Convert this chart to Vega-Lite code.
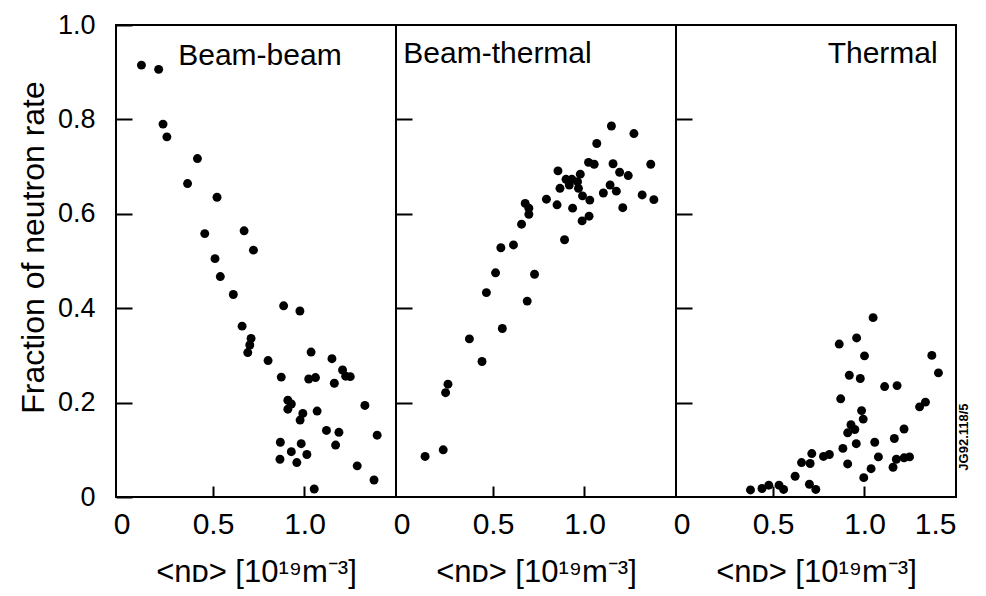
{
  "$schema": "https://vega.github.io/schema/vega-lite/v6.json",
  "background": "white",
  "padding": {"left": 16, "top": 10, "right": 8, "bottom": 4},
  "spacing": 0,
  "bounds": "flush",
  "config": {
    "view": {"stroke": "black", "strokeWidth": 2},
    "font": "Liberation Sans",
    "axis": {
      "domain": false, "grid": false,
      "tickColor": "black", "tickWidth": 2,
      "labelColor": "black", "titleColor": "black",
      "labelFont": "Liberation Sans", "titleFont": "Liberation Sans",
      "titleFontWeight": "normal"
    },
    "axisX": {
      "tickSize": -11, "labelPadding": 23, "labelFontSize": 30,
      "titleFontSize": 31, "titlePadding": 18
    },
    "axisY": {
      "tickSize": -16, "labelPadding": 37, "labelFontSize": 27,
      "titleFontSize": 32, "titlePadding": 7
    },
    "text": {"font": "Liberation Sans", "color": "black"}
  },
  "hconcat": [
    {
      "width": 280, "height": 472,
      "layer": [
        {
          "data": {"values": [
            {"x":0.109,"y":0.915},{"x":0.203,"y":0.906},{"x":0.227,"y":0.790},{"x":0.248,"y":0.763},{"x":0.415,"y":0.717},{"x":0.361,"y":0.664},{"x":0.522,"y":0.635},{"x":0.455,"y":0.558},{"x":0.670,"y":0.564},{"x":0.721,"y":0.523},{"x":0.511,"y":0.505},{"x":0.540,"y":0.467},{"x":0.611,"y":0.429},{"x":0.886,"y":0.405},{"x":0.975,"y":0.394},{"x":0.659,"y":0.362},{"x":0.708,"y":0.336},{"x":0.701,"y":0.322},{"x":0.690,"y":0.306},{"x":0.801,"y":0.289},{"x":1.036,"y":0.307},{"x":1.150,"y":0.293},{"x":1.208,"y":0.269},{"x":1.225,"y":0.256},{"x":1.250,"y":0.255},{"x":0.873,"y":0.254},{"x":1.023,"y":0.250},{"x":1.060,"y":0.253},{"x":1.163,"y":0.241},{"x":0.909,"y":0.205},{"x":0.928,"y":0.197},{"x":0.909,"y":0.186},{"x":0.991,"y":0.177},{"x":0.976,"y":0.163},{"x":1.069,"y":0.182},{"x":1.330,"y":0.194},{"x":1.120,"y":0.141},{"x":1.188,"y":0.137},{"x":1.397,"y":0.131},{"x":1.170,"y":0.110},{"x":0.868,"y":0.116},{"x":0.982,"y":0.113},{"x":0.928,"y":0.096},{"x":1.013,"y":0.090},{"x":0.866,"y":0.080},{"x":0.958,"y":0.073},{"x":1.288,"y":0.066},{"x":1.380,"y":0.036},{"x":1.053,"y":0.017}
          ]},
          "mark": {"type": "point", "filled": true, "size": 80, "color": "black", "opacity": 1},
          "encoding": {
            "x": {"field": "x", "type": "quantitative", "scale": {"domain": [-0.03, 1.5], "nice": false, "zero": false},
                  "axis": {"title": "<nᴅ> [10¹⁹m⁻³]", "values": [0, 0.5, 1.0],
                           "labelExpr": "datum.value == 0 ? '0' : format(datum.value, '.1f')",
                           "tickOpacity": {"condition": {"test": "datum.value == 0", "value": 0}, "value": 1}}},
            "y": {"field": "y", "type": "quantitative", "scale": {"domain": [0, 1], "nice": false},
                  "axis": {"title": "Fraction of neutron rate", "titleY": 222, "values": [0, 0.2, 0.4, 0.6, 0.8, 1.0],
                           "labelExpr": "datum.value == 0 ? '0' : format(datum.value, '.1f')"}}
          }
        },
        {
          "data": {"values": [{"panel": "Beam-beam"}]},
          "mark": {"type": "text", "align": "left", "baseline": "alphabetic", "fontSize": 30},
          "encoding": {
            "x": {"datum": 0.31}, "y": {"datum": 0.915},
            "text": {"field": "panel"}
          }
        }
      ]
    },
    {
      "width": 280, "height": 472,
      "layer": [
        {
          "data": {"values": [
            {"x":1.147,"y":0.786},{"x":1.270,"y":0.770},{"x":1.067,"y":0.749},{"x":1.022,"y":0.709},{"x":1.053,"y":0.705},{"x":1.156,"y":0.706},{"x":1.362,"y":0.705},{"x":0.855,"y":0.691},{"x":1.192,"y":0.688},{"x":1.239,"y":0.681},{"x":0.977,"y":0.684},{"x":0.899,"y":0.673},{"x":0.931,"y":0.673},{"x":0.962,"y":0.668},{"x":0.917,"y":0.661},{"x":0.866,"y":0.654},{"x":0.967,"y":0.654},{"x":1.140,"y":0.661},{"x":1.174,"y":0.648},{"x":1.103,"y":0.644},{"x":0.989,"y":0.638},{"x":1.029,"y":0.629},{"x":1.315,"y":0.640},{"x":1.379,"y":0.630},{"x":0.792,"y":0.631},{"x":0.850,"y":0.619},{"x":0.935,"y":0.612},{"x":1.209,"y":0.613},{"x":0.676,"y":0.622},{"x":0.696,"y":0.612},{"x":0.696,"y":0.599},{"x":1.025,"y":0.595},{"x":0.987,"y":0.585},{"x":0.656,"y":0.578},{"x":0.891,"y":0.545},{"x":0.543,"y":0.528},{"x":0.612,"y":0.534},{"x":0.514,"y":0.475},{"x":0.727,"y":0.472},{"x":0.464,"y":0.433},{"x":0.687,"y":0.415},{"x":0.551,"y":0.357},{"x":0.371,"y":0.335},{"x":0.440,"y":0.287},{"x":0.254,"y":0.239},{"x":0.241,"y":0.221},{"x":0.228,"y":0.100},{"x":0.129,"y":0.086}
          ]},
          "mark": {"type": "point", "filled": true, "size": 80, "color": "black", "opacity": 1},
          "encoding": {
            "x": {"field": "x", "type": "quantitative", "scale": {"domain": [-0.03, 1.5], "nice": false, "zero": false},
                  "axis": {"title": "<nᴅ> [10¹⁹m⁻³]", "values": [0, 0.5, 1.0],
                           "labelExpr": "datum.value == 0 ? '0' : format(datum.value, '.1f')",
                           "tickOpacity": {"condition": {"test": "datum.value == 0", "value": 0}, "value": 1}}},
            "y": {"field": "y", "type": "quantitative", "scale": {"domain": [0, 1], "nice": false},
                  "axis": {"title": null, "labels": false, "values": [0.2, 0.4, 0.6, 0.8]}}
          }
        },
        {
          "data": {"values": [{"panel": "Beam-thermal"}]},
          "mark": {"type": "text", "align": "left", "baseline": "alphabetic", "fontSize": 30},
          "encoding": {
            "x": {"datum": 0.01}, "y": {"datum": 0.92},
            "text": {"field": "panel"}
          }
        }
      ]
    },
    {
      "width": 280, "height": 472,
      "layer": [
        {
          "data": {"values": [
            {"x":1.047,"y":0.380},{"x":0.957,"y":0.337},{"x":0.862,"y":0.324},{"x":1.000,"y":0.299},{"x":1.368,"y":0.300},{"x":1.404,"y":0.263},{"x":0.917,"y":0.258},{"x":0.977,"y":0.251},{"x":1.110,"y":0.234},{"x":1.178,"y":0.236},{"x":0.870,"y":0.208},{"x":1.333,"y":0.201},{"x":1.301,"y":0.191},{"x":0.984,"y":0.183},{"x":0.993,"y":0.165},{"x":0.926,"y":0.153},{"x":0.947,"y":0.143},{"x":0.908,"y":0.136},{"x":1.216,"y":0.144},{"x":1.163,"y":0.124},{"x":1.056,"y":0.116},{"x":0.955,"y":0.113},{"x":0.882,"y":0.103},{"x":1.076,"y":0.085},{"x":1.174,"y":0.080},{"x":1.216,"y":0.083},{"x":1.246,"y":0.085},{"x":1.156,"y":0.063},{"x":0.908,"y":0.070},{"x":1.036,"y":0.060},{"x":0.996,"y":0.041},{"x":0.808,"y":0.090},{"x":0.776,"y":0.086},{"x":0.712,"y":0.092},{"x":0.703,"y":0.071},{"x":0.656,"y":0.073},{"x":0.621,"y":0.044},{"x":0.699,"y":0.027},{"x":0.734,"y":0.016},{"x":0.533,"y":0.025},{"x":0.558,"y":0.016},{"x":0.477,"y":0.025},{"x":0.440,"y":0.018},{"x":0.377,"y":0.015}
          ]},
          "mark": {"type": "point", "filled": true, "size": 80, "color": "black", "opacity": 1},
          "encoding": {
            "x": {"field": "x", "type": "quantitative", "scale": {"domain": [-0.03, 1.5], "nice": false, "zero": false},
                  "axis": {"title": "<nᴅ> [10¹⁹m⁻³]", "values": [0, 0.5, 1.0, 1.5],
                           "labelExpr": "datum.value == 0 ? '0' : format(datum.value, '.1f')",
                           "tickOpacity": {"condition": {"test": "datum.value == 0 || datum.value == 1.5", "value": 0}, "value": 1}}},
            "y": {"field": "y", "type": "quantitative", "scale": {"domain": [0, 1], "nice": false},
                  "axis": {"title": null, "labels": false, "values": [0.2, 0.4, 0.6, 0.8]}}
          }
        },
        {
          "data": {"values": [{"panel": "Thermal", "code": "JG92.118/5"}]},
          "layer": [
            {
              "mark": {"type": "text", "align": "right", "baseline": "alphabetic", "fontSize": 30},
              "encoding": {
                "x": {"datum": 1.40}, "y": {"datum": 0.92},
                "text": {"field": "panel"}
              }
            },
            {
              "mark": {"type": "text", "align": "center", "baseline": "middle", "fontSize": 13, "fontWeight": "bold", "angle": 270},
              "encoding": {
                "x": {"datum": 1.545}, "y": {"datum": 0.127},
                "text": {"field": "code"}
              }
            }
          ]
        }
      ]
    }
  ]
}
